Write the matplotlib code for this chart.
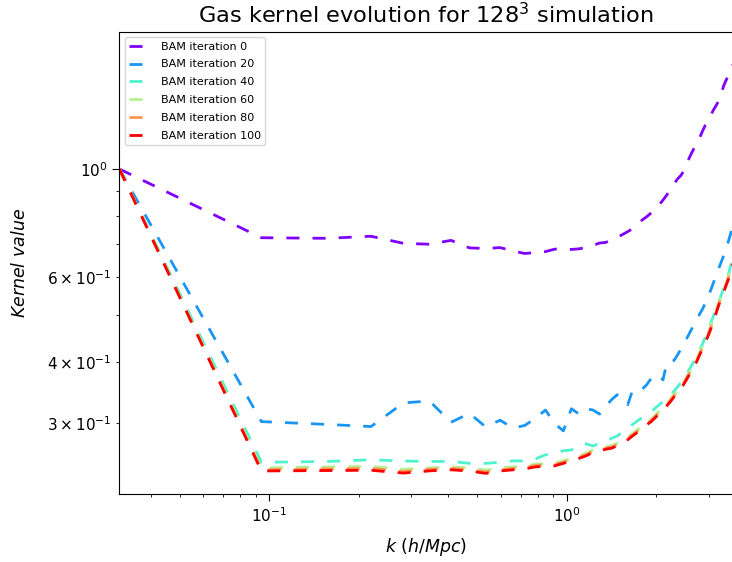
# Gas kernel evolution plot (BAM iterations)
import numpy as np
import matplotlib
matplotlib.use('Agg')
import matplotlib.pyplot as plt

# k bins (h/Mpc)
k = [0.0314, 0.0942, 0.1571, 0.2199, 0.2827, 0.3456, 0.4084, 0.4712, 0.5341, 0.5969,
     0.6597, 0.7226, 0.7854, 0.8482, 0.9111, 0.9739, 1.0367, 1.0996, 1.1624, 1.2252,
     1.2881, 1.3509, 1.4137, 1.4765, 1.5394, 1.6022, 1.6650, 1.7279, 1.7907, 1.8535,
     1.9164, 1.9792, 2.0420, 2.1049, 2.1677, 2.2305, 2.2934, 2.3562, 2.4190, 2.4819,
     2.5447, 2.6075, 2.6704, 2.7332, 2.7960, 2.8588, 2.9217, 2.9845, 3.0473, 3.1102,
     3.1730, 3.2358, 3.2987, 3.3615, 3.4243, 3.4872, 3.5500, 3.6128]

# kernel values for each iteration
it0 = [1.0, 0.722, 0.720, 0.727, 0.703, 0.700, 0.713, 0.688, 0.686, 0.689,
       0.678, 0.670, 0.673, 0.676, 0.684, 0.684, 0.683, 0.685, 0.689, 0.696,
       0.704, 0.706, 0.714, 0.723, 0.733, 0.743, 0.754, 0.769, 0.785, 0.797,
       0.811, 0.824, 0.843, 0.863, 0.884, 0.908, 0.932, 0.954, 0.970, 0.995,
       1.035, 1.069, 1.100, 1.125, 1.160, 1.197, 1.232, 1.255, 1.290, 1.323,
       1.350, 1.380, 1.420, 1.480, 1.520, 1.556, 1.590, 1.640]
it20 = [1.0, 0.302, 0.298, 0.295, 0.330, 0.333, 0.301, 0.314, 0.2945, 0.304,
        0.293, 0.2965, 0.307, 0.319, 0.299, 0.289, 0.321, 0.313, 0.321, 0.319,
        0.313, 0.3245, 0.335, 0.343, 0.336, 0.327, 0.351, 0.352, 0.352, 0.3594,
        0.3698, 0.3742, 0.3768, 0.368, 0.3989, 0.4017, 0.4036, 0.4143, 0.4262, 0.4384,
        0.451, 0.464, 0.4776, 0.489, 0.503, 0.515, 0.530, 0.545, 0.5637, 0.583,
        0.604, 0.623, 0.642, 0.662, 0.685, 0.708, 0.735, 0.764]
it40 = [1.0, 0.249, 0.250, 0.252, 0.2505, 0.250, 0.250, 0.2478, 0.2478, 0.249,
        0.2507, 0.2507, 0.2531, 0.258, 0.260, 0.263, 0.264, 0.2705, 0.2718, 0.269,
        0.2724, 0.2758, 0.279, 0.282, 0.2877, 0.2932, 0.298, 0.303, 0.3074, 0.312,
        0.3162, 0.3216, 0.327, 0.332, 0.337, 0.343, 0.349, 0.356, 0.3637, 0.3715,
        0.381, 0.391, 0.401, 0.412, 0.424, 0.4365, 0.451, 0.466, 0.482, 0.498,
        0.517, 0.5325, 0.549, 0.567, 0.5835, 0.603, 0.632, 0.665]
it60 = [1.0, 0.2425, 0.2437, 0.2443, 0.241, 0.2425, 0.2437, 0.2425, 0.240, 0.2425,
        0.2437, 0.2449, 0.247, 0.2472, 0.248, 0.2507, 0.2537, 0.2568, 0.260, 0.264,
        0.2662, 0.268, 0.2694, 0.2725, 0.2757, 0.2803, 0.2857, 0.2905, 0.2953, 0.3009,
        0.3052, 0.3111, 0.317, 0.323, 0.3293, 0.336, 0.3436, 0.3502, 0.3572, 0.3663,
        0.376, 0.3856, 0.3961, 0.4063, 0.4193, 0.4313, 0.4459, 0.4584, 0.4742, 0.4924,
        0.510, 0.5293, 0.5465, 0.5637, 0.5809, 0.5981, 0.6214, 0.6457]
it80 = [1.0, 0.2405, 0.2415, 0.242, 0.2385, 0.241, 0.242, 0.2405, 0.238, 0.2405,
        0.242, 0.243, 0.2455, 0.246, 0.2465, 0.2493, 0.2522, 0.2552, 0.2584, 0.2625,
        0.2646, 0.2665, 0.2678, 0.2708, 0.274, 0.2787, 0.284, 0.2887, 0.2936, 0.2991,
        0.3034, 0.3092, 0.3151, 0.3211, 0.3274, 0.334, 0.3415, 0.3481, 0.3551, 0.3642,
        0.3737, 0.3833, 0.3937, 0.4039, 0.4168, 0.4288, 0.4432, 0.4557, 0.4714, 0.4895,
        0.507, 0.5261, 0.5432, 0.5603, 0.5774, 0.5945, 0.6177, 0.6418]
it100 = [1.0, 0.239, 0.2395, 0.2398, 0.2366, 0.2391, 0.2403, 0.239, 0.2363, 0.239,
         0.2403, 0.2414, 0.2437, 0.2443, 0.2449, 0.2478, 0.2507, 0.2537, 0.2568, 0.2611,
         0.263, 0.2649, 0.2662, 0.2692, 0.2724, 0.277, 0.2823, 0.287, 0.2918, 0.2973,
         0.3016, 0.3074, 0.3132, 0.3192, 0.3254, 0.332, 0.3395, 0.346, 0.353, 0.362,
         0.3715, 0.381, 0.3914, 0.4015, 0.4143, 0.4262, 0.4406, 0.453, 0.4686, 0.4866,
         0.504, 0.523, 0.540, 0.557, 0.574, 0.591, 0.614, 0.638]

iterations = [0, 20, 40, 60, 80, 100]
kernels = [it0, it20, it40, it60, it80, it100]

fig = plt.figure(figsize=(7.32, 5.62), dpi=100)
ax = fig.add_axes([0.1631, 0.1205, 0.838, 0.8231])

colors = plt.cm.rainbow(np.linspace(0, 1, len(iterations)))
for it, kern, c in zip(iterations, kernels, colors):
    ax.plot(k, kern, color=c, lw=2, linestyle=(0, (4.7, 4.7)),
            label='BAM iteration %d' % it)

ax.set_xscale('log')
ax.set_yscale('log')
ax.set_xlim(k[0], k[-1])
ax.set_ylim(0.214, 1.917)

# ticks a bit longer than default, minor labels on y too
ax.tick_params(which='both', labelsize=11)
ax.tick_params(which='major', length=4.8)
ax.tick_params(which='minor', length=2.4)
ax.set_xlabel(r'$k\ (h/Mpc)$', fontsize=12.5, labelpad=8)
ax.set_ylabel(r'$Kernel\ value$', fontsize=12.5, labelpad=13)
ax.set_title(r'Gas kernel evolution for $128^3$ simulation', fontsize=16.2)
ax.legend(loc='upper left', fontsize=8, labelspacing=0.7)

fig.savefig('out.png', dpi=100)
